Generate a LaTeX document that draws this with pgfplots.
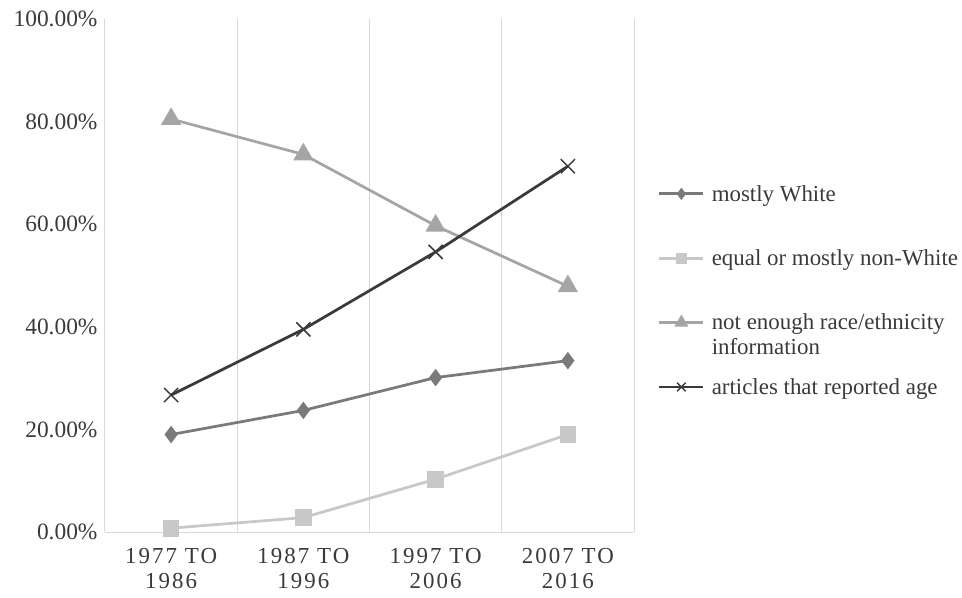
\documentclass[border=0pt]{standalone}
\usepackage{fontspec}
\setmainfont{Liberation Serif}
\usepackage{pgfplots}
\pgfplotsset{compat=1.18}
\definecolor{cWhite}{HTML}{7A7A7A}
\definecolor{cNon}{HTML}{C8C8C8}
\definecolor{cNot}{HTML}{A5A5A5}
\definecolor{cAge}{HTML}{3A3A3A}
\definecolor{gridc}{HTML}{D9D9D9}
\definecolor{textc}{HTML}{3A3A3A}
\begin{document}
\begin{tikzpicture}
\begin{axis}[
  scale only axis, width=529bp, height=513bp,
  xmin=-0.5, xmax=3.5, ymin=0, ymax=100,
  axis x line*=bottom, axis y line*=left,
  axis line style={draw=gridc, line width=1bp, -},
  xtick={0,1,2,3},
  xticklabels={{1977 TO\\1986},{1987 TO\\1996},{1997 TO\\2006},{2007 TO\\2016}},
  xticklabel style={align=center, font=\fontsize{23}{25}\selectfont\addfontfeatures{LetterSpace=9}, yshift=-13bp, text=textc},
  minor xtick={0.5,1.5,2.5,3.5},
  xminorgrids=true,
  minor x grid style={draw=gridc, line width=1bp},
  tick style={draw=none},
  major tick length=0pt, minor tick length=0pt,
  ytick={0,20,40,60,80,100},
  yticklabel={\pgfmathprintnumber[fixed,fixed zerofill,precision=2,assume math mode=true]{\tick}\%},
  yticklabel style={font=\fontsize{23.5}{25}\selectfont, text=textc, xshift=-4bp},
  clip=false,
  legend cell align=left,
  legend style={draw=none, fill=none, at={(axis description cs:1.0454,0.68)}, anchor=north west,
    inner sep=0pt, outer sep=0pt, row sep=43bp, column sep=5bp,
    font=\fontsize{23}{25}\selectfont, text=textc},
  legend image code/.code={\draw[mark repeat=2, mark phase=2, #1] plot coordinates {(0bp,0bp)(22bp,0bp)(44bp,0bp)};},
  legend image post style={every mark/.append style={scale=0.6}},
]
\addplot[color=cWhite, line width=2.75bp, mark=diamond*, mark size=6.5bp, mark options={solid}]
  coordinates {(0,19.0)(1,23.7)(2,30.1)(3,33.4)};
\addlegendentry{mostly White}
\addplot[color=cNon, line width=2.75bp, mark=square*, mark size=7bp, mark options={solid}]
  coordinates {(0,0.75)(1,2.8)(2,10.3)(3,19.0)};
\addlegendentry{equal or mostly non-White}
\addplot[color=cNot, line width=2.75bp, mark=triangle*, mark size=9bp, mark options={solid}]
  coordinates {(0,80.5)(1,73.6)(2,59.7)(3,47.9)};
\addlegendentry{\vtop{\hbox{not enough race/ethnicity}\hbox{information}}}
\addplot[color=cAge, line width=2.75bp, mark=x, mark size=10bp, mark options={solid, line width=1.5bp}]
  coordinates {(0,26.7)(1,39.5)(2,54.6)(3,71.3)};
\addlegendentry{articles that reported age}
\end{axis}
\pgfresetboundingbox
\path (current axis.south west) ++(-105bp,-66bp) rectangle ([shift={(857bp,532bp)}]current axis.south west);
\end{tikzpicture}
\end{document}
